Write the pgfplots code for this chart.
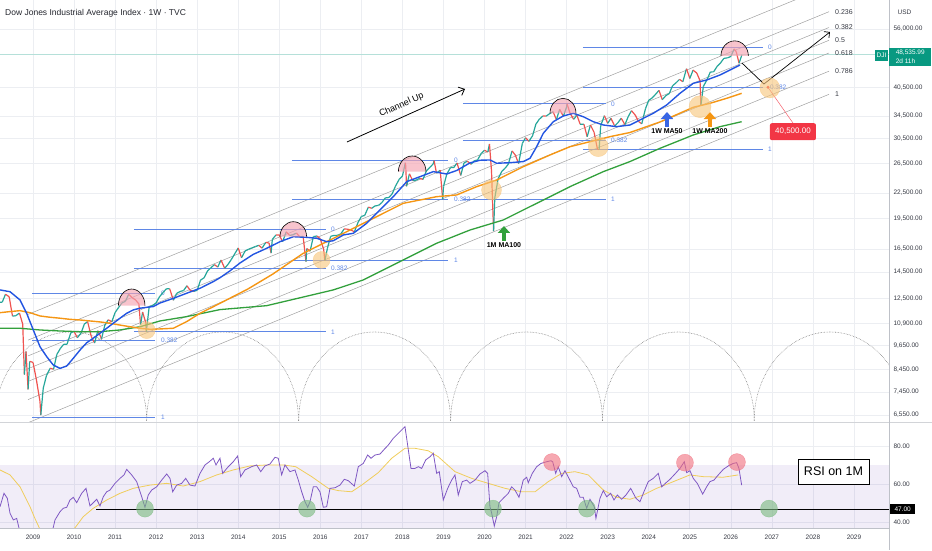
\documentclass[border=0pt]{standalone}
\usepackage{pgfplots}
\usepackage{pgfplotstable}
\pgfplotsset{compat=1.18}
\usepackage{fontspec}
\setmainfont{Liberation Sans}
\usetikzlibrary{arrows.meta}

\definecolor{gridc}{RGB}{236,238,242}
\definecolor{fibblue}{RGB}{95,135,230}
\definecolor{ma50}{RGB}{35,85,225}
\definecolor{ma200}{RGB}{245,150,20}
\definecolor{ma100}{RGB}{50,160,60}
\definecolor{chan}{RGB}{160,160,160}
\definecolor{rsip}{RGB}{126,87,194}
\definecolor{rsiy}{RGB}{240,205,90}
\definecolor{tvgreen}{RGB}{8,153,129}
\definecolor{tvred}{RGB}{242,54,69}
\definecolor{axc}{RGB}{190,193,200}
\definecolor{labc}{RGB}{55,58,68}
\definecolor{titc}{RGB}{35,37,45}
\definecolor{domefill}{RGB}{244,165,178}
\definecolor{orfill}{RGB}{247,196,120}
\definecolor{grfill}{RGB}{120,185,125}
\definecolor{rdfill}{RGB}{240,110,125}

\pgfplotstableread{
t p m
2008.19 12260 1
2008.25 12263 1
2008.33 12820 0
2008.42 12638 0
2008.50 11350 1
2008.58 11378 1
2008.67 11544 0
2008.75 10851 0
2008.79 8200 1
2008.83 9325 0
2008.88 7552 1
2008.92 8829 0
2009.00 8776 0
2009.08 8000 0
2009.17 7063 0
2009.19 6547 1
2009.25 7609 1
2009.33 8168 1
2009.42 8500 0
2009.50 8447 1
2009.58 9172 1
2009.67 9496 1
2009.75 9712 1
2009.83 9713 1
2009.92 10345 1
2010.00 10428 0
2010.08 10067 1
2010.17 10325 1
2010.25 10857 1
2010.33 11009 0
2010.42 10137 0
2010.50 9774 1
2010.58 10466 0
2010.67 10015 1
2010.75 10788 1
2010.83 11118 0
2010.92 11006 1
2011.00 11578 1
2011.08 11892 1
2011.17 12226 1
2011.25 12320 1
2011.33 12811 0
2011.42 12570 0
2011.50 12414 0
2011.58 12143 0
2011.62 10810 1
2011.67 11614 0
2011.75 10913 0
2011.76 10405 1
2011.83 11955 1
2011.92 12046 1
2012.00 12218 1
2012.08 12633 1
2012.17 12952 1
2012.25 13212 1
2012.33 13214 0
2012.42 12393 1
2012.50 12880 1
2012.58 13009 1
2012.67 13091 1
2012.75 13437 0
2012.83 13096 0
2012.92 13026 1
2013.00 13104 1
2013.08 13861 1
2013.17 14054 1
2013.25 14579 1
2013.33 14840 1
2013.42 15116 0
2013.50 14910 1
2013.58 15500 0
2013.67 14810 1
2013.75 15130 1
2013.83 15546 1
2013.92 16086 1
2014.00 16577 0
2014.08 15699 1
2014.17 16322 1
2014.25 16458 1
2014.33 16581 1
2014.42 16717 1
2014.50 16827 0
2014.58 16563 1
2014.67 17098 0
2014.75 17043 0
2014.80 16117 1
2014.83 17391 1
2014.92 17828 0
2015.00 17823 0
2015.08 17165 1
2015.17 18133 0
2015.25 17776 1
2015.33 17841 1
2015.42 18011 0
2015.50 17620 1
2015.58 17690 0
2015.65 15370 1
2015.67 16528 0
2015.75 16285 1
2015.83 17664 1
2015.92 17720 0
2016.00 17425 0
2016.08 16466 0
2016.11 15450 1
2016.17 16517 1
2016.25 17685 1
2016.33 17774 1
2016.42 17787 1
2016.50 17930 1
2016.58 18432 0
2016.67 18401 0
2016.75 18308 0
2016.83 18142 1
2016.92 19124 1
2017.00 19763 1
2017.08 19864 1
2017.17 20812 0
2017.25 20663 1
2017.33 20941 1
2017.42 21009 1
2017.50 21350 1
2017.58 21891 1
2017.67 21948 1
2017.75 22405 1
2017.83 23377 1
2017.92 24272 1
2018.00 24719 1
2018.07 26617 0
2018.08 26149 0
2018.10 23360 1
2018.17 25029 0
2018.25 24103 1
2018.33 24163 1
2018.42 24416 0
2018.50 24271 1
2018.58 25415 1
2018.67 25965 1
2018.75 26458 1
2018.77 26951 0
2018.83 25116 1
2018.92 25538 0
2018.98 21713 1
2019.00 23327 1
2019.08 24999 1
2019.17 25916 1
2019.25 25929 1
2019.33 26593 0
2019.42 24815 1
2019.50 26600 1
2019.58 26864 0
2019.67 26403 1
2019.75 26917 1
2019.83 27046 1
2019.92 28051 1
2020.00 28538 0
2020.08 28256 1
2020.12 29551 0
2020.17 25409 0
2020.22 18214 1
2020.25 21917 1
2020.33 24346 1
2020.42 25383 1
2020.50 25813 1
2020.58 26428 1
2020.67 28430 0
2020.75 27782 0
2020.83 26502 1
2020.92 29639 1
2021.00 30606 0
2021.08 29983 1
2021.17 30932 1
2021.25 32982 1
2021.33 33875 1
2021.42 34529 0
2021.50 34503 1
2021.58 34935 1
2021.67 35361 0
2021.75 33844 1
2021.83 35820 0
2021.92 34484 1
2022.00 36338 1
2022.01 36952 0
2022.08 35132 0
2022.17 33893 1
2022.25 34678 0
2022.33 32977 1
2022.42 32990 0
2022.50 30775 1
2022.58 32845 0
2022.67 31510 0
2022.75 28726 0
2022.79 28660 1
2022.83 32733 1
2022.92 34590 0
2023.00 33147 1
2023.08 34086 0
2023.17 32657 1
2023.25 33274 1
2023.33 34098 0
2023.42 32908 1
2023.50 34408 1
2023.58 35560 0
2023.67 34722 0
2023.75 33508 0
2023.83 33053 1
2023.92 35951 1
2024.00 37690 1
2024.08 38150 1
2024.17 38996 1
2024.25 39807 0
2024.33 37816 1
2024.42 38686 1
2024.50 39119 1
2024.58 40843 1
2024.67 41563 1
2024.75 42330 0
2024.83 41763 1
2024.92 44911 0
2025.00 42544 1
2025.08 44545 0
2025.17 43841 0
2025.25 42002 0
2025.27 36612 1
2025.33 40669 1
2025.42 42270 1
2025.50 44095 1
2025.58 44131 1
2025.67 45545 1
2025.75 46398 1
2025.83 47563 1
2025.92 47716 1
2026.00 48063 1
2026.08 50100 0
2026.13 49400 0
2026.20 46300 1
2026.27 48536 1
}\pricedata

\pgfplotstableread{
t p
2008.196 13130
2008.440 13000
2008.683 12420
2008.846 11530
2009.007 10510
2009.170 9580
2009.334 9060
2009.494 8650
2009.658 8490
2009.821 8600
2009.982 8980
2010.145 9400
2010.308 9790
2010.469 10040
2010.632 10320
2010.795 10610
2010.956 10910
2011.119 11220
2011.282 11530
2011.443 11750
2011.606 11860
2011.770 11920
2011.930 11970
2012.094 12210
2012.418 12530
2012.744 12890
2013.068 13250
2013.392 13750
2013.555 14050
2013.799 14600
2014.042 15250
2014.366 16000
2014.693 16550
2015.017 17170
2015.341 17650
2015.667 17590
2015.911 17500
2016.154 17170
2016.315 17260
2016.559 17820
2016.803 17990
2017.128 19020
2017.453 20480
2017.777 22050
2018.103 23970
2018.427 24640
2018.751 25340
2019.077 25010
2019.321 25500
2019.645 26600
2019.889 27000
2020.132 27040
2020.296 26550
2020.620 26630
2020.944 26800
2021.107 27290
2021.270 29110
2021.431 31360
2021.675 33450
2021.918 34530
2022.162 35050
2022.405 34390
2022.649 33450
2022.893 32840
2023.219 32540
2023.543 32840
2023.786 33770
2024.110 35050
2024.437 36710
2024.761 39170
2025.085 41410
2025.412 42180
2025.736 43370
2025.980 44590
2026.222 45840
}\maA

\pgfplotstableread{
t p
2008.196 11570
2008.440 11640
2008.683 11700
2008.927 11570
2009.170 11360
2009.414 11280
2009.658 11220
2009.901 11150
2010.145 11110
2010.388 11050
2010.632 10990
2010.876 10910
2011.119 10800
2011.363 10700
2011.606 10610
2011.850 10550
2012.094 10570
2012.418 10610
2012.744 11010
2013.068 11530
2013.392 11960
2013.555 12190
2014.237 13200
2014.846 14350
2015.585 16100
2016.398 17650
2017.209 19370
2018.020 21250
2018.834 22050
2019.321 22260
2019.808 23310
2020.296 24190
2020.944 26050
2021.594 27800
2022.081 29110
2022.568 29930
2023.056 30780
2023.543 31500
2024.274 33400
2025.085 36240
2025.492 37050
2025.899 38100
2026.263 39170
}\maB

\pgfplotstableread{
t p
2008.196 10610
2008.683 10610
2009.170 10510
2009.658 10450
2010.145 10410
2010.632 10410
2011.119 10510
2011.606 10700
2012.094 11050
2012.744 11320
2013.555 11770
2014.693 12030
2016.315 13130
2017.046 13880
2018.020 15510
2018.834 17020
2019.645 18320
2020.456 19370
2021.270 21250
2022.081 23310
2022.893 25340
2023.543 26800
2024.274 28850
2025.085 31070
2025.736 32540
2026.263 33450
}\maC

\pgfplotstableread{
t r
2008.196 48.3
2008.293 55.3
2008.374 52.7
2008.440 44.9
2008.520 41.4
2008.603 42.2
2008.683 35.0
2008.800 29.0
2008.950 26.0
2009.100 23.0
2009.250 27.0
2009.400 33.0
2009.494 37.5
2009.536 41.4
2009.658 45.7
2009.738 47.5
2009.821 48.0
2009.901 51.8
2009.982 53.2
2010.064 50.4
2010.186 55.3
2010.291 57.9
2010.388 48.7
2010.552 52.2
2010.632 48.7
2010.712 53.5
2010.795 56.1
2010.876 57.0
2010.997 60.5
2011.119 63.1
2011.217 64.9
2011.282 67.8
2011.404 64.9
2011.526 61.4
2011.648 53.5
2011.728 48.0
2011.808 54.4
2011.891 57.0
2012.013 58.7
2012.135 62.2
2012.257 65.4
2012.337 63.1
2012.403 56.1
2012.500 59.6
2012.622 60.5
2012.720 63.1
2012.824 59.6
2012.946 59.1
2013.068 65.7
2013.190 70.1
2013.295 71.8
2013.392 73.6
2013.458 70.1
2013.555 73.6
2013.621 65.7
2013.757 69.2
2013.879 71.8
2013.986 74.8
2014.059 64.0
2014.164 67.5
2014.327 69.2
2014.449 70.1
2014.547 66.6
2014.651 69.6
2014.773 70.6
2014.895 74.1
2014.975 73.6
2015.058 64.9
2015.139 70.1
2015.260 66.6
2015.382 67.5
2015.463 62.2
2015.545 56.1
2015.626 50.9
2015.692 48.0
2015.748 50.9
2015.828 58.7
2015.911 58.7
2015.991 56.1
2016.072 48.0
2016.154 48.3
2016.235 57.9
2016.357 58.2
2016.478 59.6
2016.583 62.6
2016.680 61.9
2016.827 59.1
2016.924 69.2
2017.046 70.9
2017.153 75.3
2017.234 73.6
2017.331 75.3
2017.453 75.8
2017.558 78.3
2017.655 80.5
2017.777 84.0
2017.899 86.6
2017.981 88.4
2018.062 90.1
2018.208 68.3
2018.305 68.3
2018.386 69.2
2018.469 68.3
2018.566 72.7
2018.671 74.4
2018.751 76.2
2018.834 65.7
2018.897 66.6
2018.995 51.8
2019.102 57.9
2019.199 62.2
2019.280 64.9
2019.360 54.4
2019.458 61.4
2019.565 62.2
2019.645 60.5
2019.767 62.2
2019.889 65.4
2020.011 67.1
2020.076 65.7
2020.132 48.3
2020.174 44.9
2020.237 38.2
2020.296 43.1
2020.352 50.4
2020.456 52.7
2020.578 55.3
2020.661 58.7
2020.741 57.0
2020.839 53.2
2020.943 62.2
2021.026 63.7
2021.065 60.8
2021.163 65.7
2021.270 69.2
2021.375 70.9
2021.514 71.8
2021.618 72.3
2021.660 71.8
2021.733 65.7
2021.796 69.2
2021.879 64.0
2021.959 67.1
2022.057 63.1
2022.161 58.7
2022.244 57.9
2022.325 53.2
2022.405 53.2
2022.488 47.5
2022.568 52.2
2022.673 48.3
2022.714 42.2
2022.812 52.7
2022.893 56.7
2022.975 53.5
2023.073 55.3
2023.153 51.8
2023.234 54.4
2023.340 52.2
2023.445 54.4
2023.560 57.9
2023.689 52.7
2023.786 50.9
2023.883 56.1
2023.988 61.4
2024.110 63.1
2024.232 65.7
2024.315 58.7
2024.420 60.8
2024.517 62.6
2024.639 65.4
2024.761 68.3
2024.866 71.8
2024.924 66.1
2025.004 67.1
2025.085 63.1
2025.182 60.5
2025.314 54.9
2025.411 58.7
2025.491 61.4
2025.589 62.2
2025.694 64.9
2025.816 67.8
2025.937 69.6
2026.059 70.9
2026.142 71.3
2026.198 68.3
2026.263 59.6
}\rsidata

\pgfplotstableread{
t r
2008.196 67.5
2008.440 64.9
2008.683 58.7
2008.927 48.3
2009.050 42.0
2009.170 36.5
2009.400 31.0
2009.700 31.0
2009.900 35.0
2010.023 37.3
2010.225 43.1
2010.469 47.5
2010.795 51.8
2011.119 55.3
2011.443 57.9
2011.850 59.6
2012.257 60.5
2012.661 59.1
2013.068 61.4
2013.475 64.9
2013.879 67.5
2014.286 69.6
2014.693 70.1
2015.097 70.1
2015.400 69.2
2015.789 64.0
2016.193 57.9
2016.437 56.7
2016.763 56.1
2017.007 59.6
2017.412 66.1
2017.738 73.6
2018.062 78.8
2018.305 78.8
2018.629 77.5
2018.873 74.4
2019.280 66.6
2019.687 63.1
2020.091 60.5
2020.498 57.9
2020.904 56.1
2021.229 56.1
2021.553 61.4
2021.879 65.7
2022.203 66.6
2022.527 64.9
2022.893 57.0
2023.220 53.2
2023.543 52.2
2023.867 54.4
2024.193 57.9
2024.600 61.4
2025.004 64.9
2025.328 64.0
2025.816 63.7
2026.180 64.9
}\rsima

\newcommand{\dome}[4]{%
  \fill[domefill, fill opacity=0.65] (axis cs:#1,#2) ++(-#3pt,0pt) arc[start angle=180,end angle=0,x radius=#3pt,y radius=#4pt] -- cycle;
  \draw[black, line width=0.6pt] (axis cs:#1,#2) ++(-#3pt,0pt) arc[start angle=180,end angle=0,x radius=#3pt,y radius=#4pt];}
\newcommand{\cyc}[1]{%
  \draw[black!55, line width=0.55pt, densely dotted] (axis cs:#1,6337) arc[start angle=0,end angle=180,x radius=75.9pt,y radius=89pt];}
\newcommand{\fibl}[3]{\node[anchor=west, inner sep=0pt, text=fibblue, font=\fontsize{6.5}{7}\selectfont] at (axis cs:#1,#2) {#3};}
\newcommand{\chl}[2]{\node[anchor=west, inner sep=0pt, text=labc, font=\fontsize{7}{8}\selectfont] at (axis cs:2028.537,#1) {#2};}

\begin{document}
\begin{tikzpicture}[x=1pt,y=1pt]
\useasboundingbox (0pt,0pt) rectangle (932pt,-550pt);

% ================= PRICE PANEL =================
\begin{axis}[
  at={(0pt,0pt)}, anchor=north west, scale only axis,
  width=889pt, height=422pt,
  xmin=2008.196, xmax=2029.853,
  ymode=log, ymin=6302, ymax=65797,
  axis line style={draw=none}, tick style={draw=none},
  xtick={2009,2010,...,2029}, xticklabels={},
  ytick={6550,7450,8450,9650,10900,12500,14500,16500,19500,22500,26500,30500,34500,40500,56000},
  yticklabels={{6,550.00},{7,450.00},{8,450.00},{9,650.00},{10,900.00},{12,500.00},{14,500.00},{16,500.00},{19,500.00},{22,500.00},{26,500.00},{30,500.00},{34,500.00},{40,500.00},{56,000.00}},
  yticklabel pos=right,
  yticklabel style={font=\fontsize{6.5}{7}\selectfont, text=labc, anchor=west, xshift=1pt},
  grid=major, major grid style={gridc, line width=0.6pt},
]
% cycle arcs
\cyc{2011.770}\cyc{2015.468}\cyc{2019.171}\cyc{2022.873}\cyc{2026.571}\cyc{2030.266}

% current price line
\addplot[tvgreen!30, line width=0.5pt] coordinates {(2008.196,48536) (2029.853,48536)};

% fib channel
\addplot[chan, line width=0.5pt] coordinates {(2008.878,11459) (2028.391,71120)};
\addplot[chan, line width=0.5pt] coordinates {(2008.878,9933) (2028.391,61650)};
\addplot[chan, line width=0.5pt] coordinates {(2008.878,9098) (2028.391,56470)};
\addplot[chan, line width=0.5pt] coordinates {(2008.878,8473) (2028.391,52590)};
\addplot[chan, line width=0.5pt] coordinates {(2008.878,7896) (2028.391,49006)};
\addplot[chan, line width=0.5pt] coordinates {(2008.878,7136) (2028.391,44292)};
\addplot[chan, line width=0.5pt] coordinates {(2008.878,6276) (2028.391,38954)};
\chl{61650}{0.236}\chl{56470}{0.382}\chl{52590}{0.5}\chl{49006}{0.618}\chl{44292}{0.786}\chl{38954}{1}

% fib retracements
\addplot[fibblue, line width=0.8pt] coordinates {(2008.976,12876) (2011.972,12876)};
\addplot[fibblue, line width=0.8pt] coordinates {(2008.976,9905) (2011.972,9905)};
\addplot[fibblue, line width=0.8pt] coordinates {(2008.976,6470) (2011.972,6470)};
\fibl{2012.118}{12876}{0}\fibl{2012.118}{9905}{0.382}\fibl{2012.118}{6470}{1}
\addplot[fibblue, line width=0.8pt] coordinates {(2011.460,18351) (2016.137,18351)};
\addplot[fibblue, line width=0.8pt] coordinates {(2011.460,14776) (2016.137,14776)};
\addplot[fibblue, line width=0.8pt] coordinates {(2011.460,10405) (2016.137,10405)};
\fibl{2016.259}{18351}{0}\fibl{2016.259}{14776}{0.382}\fibl{2016.259}{10405}{1}
\addplot[fibblue, line width=0.8pt] coordinates {(2015.309,26951) (2019.109,26951)};
\addplot[fibblue, line width=0.8pt] coordinates {(2015.309,21777) (2019.109,21777)};
\addplot[fibblue, line width=0.8pt] coordinates {(2015.309,15450) (2019.109,15450)};
\fibl{2019.255}{26951}{0}\fibl{2019.255}{21777}{0.382}\fibl{2019.255}{15450}{1}
\addplot[fibblue, line width=0.8pt] coordinates {(2019.475,36952) (2022.958,36952)};
\addplot[fibblue, line width=0.8pt] coordinates {(2019.475,30170) (2022.958,30170)};
\addplot[fibblue, line width=0.8pt] coordinates {(2019.475,21713) (2022.958,21713)};
\fibl{2023.080}{36952}{0}\fibl{2023.080}{30170}{0.382}\fibl{2023.080}{21713}{1}
\addplot[fibblue, line width=0.8pt] coordinates {(2022.398,50500) (2026.783,50500)};
\addplot[fibblue, line width=0.8pt] coordinates {(2022.398,40500) (2026.783,40500)};
\addplot[fibblue, line width=0.8pt] coordinates {(2022.398,28660) (2026.783,28660)};
\fibl{2026.904}{50500}{0}\fibl{2026.950}{40500}{0.382}\fibl{2026.904}{28660}{1}

% support circles
\addplot[only marks, mark=*, mark size=8.5pt, mark options={draw=orfill, fill=orfill, opacity=0.6}] coordinates {(2011.77,10500) (2016.03,15509)};
\addplot[only marks, mark=*, mark size=10pt, mark options={draw=orfill, fill=orfill, opacity=0.6}] coordinates {(2020.17,22885) (2022.77,29112) (2026.95,40350)};
\addplot[only marks, mark=*, mark size=11pt, mark options={draw=orfill, fill=orfill, opacity=0.6}] coordinates {(2025.25,36360)};

% price
\addplot[mesh, shader=flat corner, point meta=explicit, point meta min=0, point meta max=1,
  colormap={updown}{rgb255(0cm)=(239,83,80) rgb255(1cm)=(38,166,154)}, line width=1.2pt]
  table[x=t, y=p, meta=m] {\pricedata};

% moving averages
\addplot[ma100, line width=1.3pt] table[x=t, y=p] {\maC};
\addplot[ma200, line width=1.4pt] table[x=t, y=p] {\maB};
\addplot[ma50, line width=1.4pt] table[x=t, y=p] {\maA};

% tops
\dome{2011.404}{12026}{13.3}{16.7}
\dome{2015.341}{17652}{13.3}{15}
\dome{2018.237}{25335}{13.8}{15.7}
\dome{2021.911}{35050}{13}{15}
\dome{2026.093}{48224}{13.7}{15}

% channel up
\draw[black, line width=0.8pt, -{Straight Barb[length=5pt,width=9pt]}] (axis cs:2016.649,29882) -- (axis cs:2019.524,40119);
\node[rotate=24, font=\fontsize{9}{10}\selectfont, inner sep=0pt] at (axis cs:2017.98,36700) {Channel Up};

% projection
\draw[black, line width=0.7pt, -{Straight Barb[length=4pt,width=8pt]}] (axis cs:2026.27,46357) -- (axis cs:2026.807,41250) -- (axis cs:2028.415,55074);
\draw[tvred!80, line width=0.5pt] (axis cs:2026.904,40500) -- (axis cs:2027.513,33210);
\fill[tvred] (axis cs:2026.904,40500) circle[radius=1.6pt];
\node[fill=tvred, text=white, rounded corners=2pt, anchor=north, minimum width=46pt, minimum height=17pt, inner sep=1pt, font=\fontsize{8}{9}\selectfont] at (axis cs:2027.513,33210) {40,500.00};

% MA arrows
\draw[ma50!90!white, line width=4.5pt, -{Triangle[width=12pt,length=7pt]}] (axis cs:2024.444,32480) -- (axis cs:2024.444,35304);
\node[anchor=north, inner sep=1.5pt, font=\bfseries\fontsize{7}{8}\selectfont] at (axis cs:2024.444,32480) {1W MA50};
\draw[ma200, line width=4.5pt, -{Triangle[width=12pt,length=7pt]}] (axis cs:2025.491,32480) -- (axis cs:2025.491,35304);
\node[anchor=north, inner sep=1.5pt, font=\bfseries\fontsize{7}{8}\selectfont] at (axis cs:2025.491,32480) {1W MA200};
\draw[ma100, line width=4.5pt, -{Triangle[width=12pt,length=7pt]}] (axis cs:2020.473,17235) -- (axis cs:2020.473,18735);
\node[anchor=north, inner sep=1.5pt, font=\bfseries\fontsize{7}{8}\selectfont] at (axis cs:2020.473,17235) {1M MA100};
\end{axis}

% ================= RSI PANEL =================
\begin{axis}[
  at={(0pt,-422pt)}, anchor=north west, scale only axis,
  width=889pt, height=106pt,
  xmin=2008.196, xmax=2029.853,
  ymin=37.18, ymax=92.53,
  axis line style={draw=none}, tick style={draw=none},
  xtick={2009,2010,...,2029},
  xticklabels={2009,2010,2011,2012,2013,2014,2015,2016,2017,2018,2019,2020,2021,2022,2023,2024,2025,2026,2027,2028,2029},
  xticklabel style={font=\fontsize{6.5}{7}\selectfont, text=labc, yshift=-3pt},
  ytick={40,60,80}, yticklabels={40.00,60.00,80.00},
  yticklabel pos=right,
  yticklabel style={font=\fontsize{6.5}{7}\selectfont, text=labc, anchor=west, xshift=1pt},
  grid=major, major grid style={gridc, line width=0.6pt},
]
\addplot[draw=none, fill=rsip, fill opacity=0.11] coordinates {(2008.196,30) (2029.853,30) (2029.853,70) (2008.196,70) (2008.196,30)};
\addplot[black, line width=1.1pt] coordinates {(2010.535,47) (2029.853,47)};
\addplot[rsiy, line width=0.8pt] table[x=t, y=r] {\rsima};
\addplot[rsip, line width=0.8pt] table[x=t, y=r] {\rsidata};
\addplot[only marks, mark=*, mark size=8.5pt, mark options={draw=grfill, fill=grfill, opacity=0.6}] coordinates {(2011.728,47.3) (2015.674,47.3) (2020.206,47.3) (2022.495,47.3) (2026.929,47.3)};
\addplot[only marks, mark=*, mark size=8.5pt, mark options={draw=rdfill, fill=rdfill, opacity=0.6}] coordinates {(2021.643,71.6) (2024.882,71.3) (2026.149,71.6)};
\end{axis}

% ================= FRAME & LABELS =================
\draw[axc!70!white, line width=0.6pt] (0pt,-422pt) -- (932pt,-422pt);
\draw[axc, line width=0.6pt] (0pt,-528pt) -- (889pt,-528pt);
\draw[axc, line width=0.6pt] (889pt,0pt) -- (889pt,-550pt);

\node[anchor=west, inner sep=0pt, font=\fontsize{8.5}{9}\selectfont, text=titc] at (5pt,-13pt) {Dow Jones Industrial Average Index · 1W · TVC};
\node[inner sep=0pt, font=\fontsize{6.5}{7}\selectfont, text=labc] at (904.5pt,-12.7pt) {USD};

\node[fill=tvgreen, text=white, anchor=east, inner sep=1.5pt, minimum height=11pt, font=\fontsize{6.5}{7}\selectfont] at (888pt,-55.5pt) {DJI};
\node[fill=tvgreen, text=white, anchor=north west, align=left, inner sep=2pt, minimum width=42pt, font=\fontsize{6.5}{9}\selectfont] at (889pt,-48pt) {48,535.99\\2d 11h};

\node[fill=black, text=white, anchor=west, inner sep=1.5pt, minimum width=25pt, minimum height=10pt, font=\fontsize{6.5}{7}\selectfont] at (890pt,-509pt) {47.00};

\node[draw=black, line width=0.8pt, fill=white, minimum width=71pt, minimum height=25pt, inner sep=1pt, font=\fontsize{12.5}{14}\selectfont] at (833.5pt,-471.5pt) {RSI on 1M};
\end{tikzpicture}
\end{document}
